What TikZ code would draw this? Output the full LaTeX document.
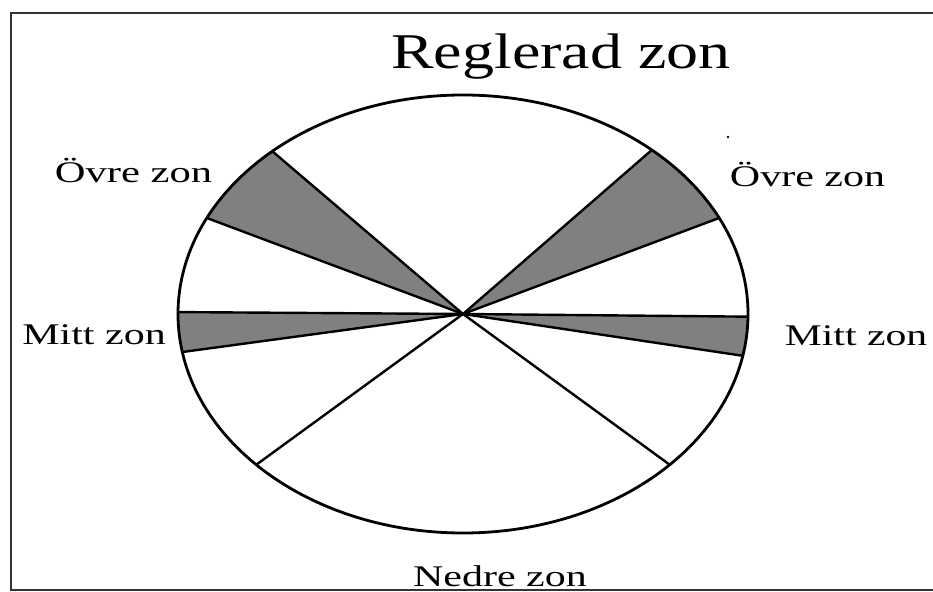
\documentclass[tikz,border=0pt]{standalone}
\usepackage{fontspec}
\setmainfont{Liberation Serif}
\usetikzlibrary{calc}
\begin{document}
\begin{tikzpicture}[x=1pt,y=1pt,
  frameline/.style={line width=2pt,black!80},
  rim/.style={line width=2.8pt},
  ray/.style={line width=2.4pt},
  shade/.style={fill=black!50},
  lbl/.style={anchor=base,inner sep=0pt,font=\fontsize{30}{34}\selectfont},
  ttl/.style={anchor=base,inner sep=0pt,font=\fontsize{50}{56}\selectfont},
  ell/.style={x radius=285pt,y radius=219pt}]
\useasboundingbox (0,0) rectangle (933,591);
\draw[frameline] (933,578) -- (11,578) -- (11,1) -- (933,1);
\coordinate (c) at (463,277);
% shaded sectors
\fill[shade] (c) -- ($(c)+(132:285pt and 219pt)$) arc[ell,start angle=132,end angle=154] -- cycle;
\fill[shade] (c) -- ($(c)+(179.5:285pt and 219pt)$) arc[ell,start angle=179.5,end angle=190] -- cycle;
\fill[shade] (c) -- ($(c)+(26:285pt and 219pt)$) arc[ell,start angle=26,end angle=48.5] -- cycle;
\fill[shade] (c) -- ($(c)+(-11:285pt and 219pt)$) arc[ell,start angle=-11,end angle=-0.7] -- cycle;
% rays
\foreach \a/\n in {132/a,154/b,179.5/d,190/e,48.5/f,26/g,-0.7/h,-11/i,223.5/j,316.5/k}{
  \coordinate (p\n) at ($(c)+(\a:285pt and 219pt)$);
  \draw[ray] (c) -- (p\n);
}
\draw[rim] (c) ellipse [ell];
\fill (728,454) circle (1.3pt);
% labels
\node[ttl] (title) at (561,522) {\scalebox{1.28}[1]{Reglerad zon}};
\node[lbl] (ovl) at (133.5,408) {\scalebox{1.42}[1]{Övre zon}};
\node[lbl] (ovr) at (807.5,404) {\scalebox{1.40}[1]{Övre zon}};
\node[lbl] (mtl) at (94,246) {\scalebox{1.40}[1]{Mitt zon}};
\node[lbl] (mtr) at (856,245) {\scalebox{1.39}[1]{Mitt zon}};
\node[lbl] (ned) at (500,5) {\scalebox{1.40}[1]{Nedre zon}};
\end{tikzpicture}
\end{document}
